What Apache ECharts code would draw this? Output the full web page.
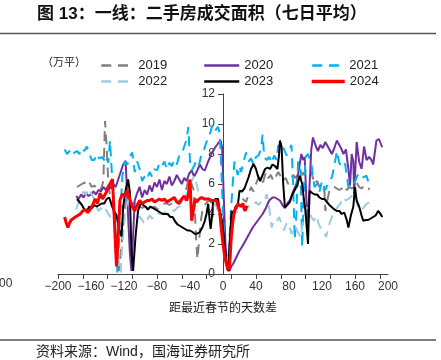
<!DOCTYPE html>
<html>
<head>
<meta charset="utf-8">
<script src="https://cdn.jsdelivr.net/npm/echarts@6/dist/echarts.min.js"></script>
<style>html,body{margin:0;padding:0;background:#fff;}#c{width:441px;height:360px;}</style>
</head>
<body>
<div id="c"></div>
<script>
const xLabelValues = [-200,-160,-120,-80,-40,0,40,80,120,160,200];
const xTickValues = [-200,-170,-140,-110,-80,-50,-20,10,40,70,100,130,160,190];
const yTicks = [0,2,4,6,8,10,12];
const seriesNames = ['2019','2020','2021','2022','2023','2024'];

const d2019 = [[-177,5.8],[-174,5.9],[-171,6.0],[-168,6.1],[-165,5.9],[-162,6.1],[-159,5.8],[-156,5.9],[-153,5.7],[-150,5.5],[-147,5.8],[-145,6.2],[-143,10.2],[-141,8.5],[-139,6.0],[-137,5.2],[-134,5.0],[-131,3.5],[-128,1.5],[-126,0.2],[-124,0.3],[-122,2.5],[-119,4.5],[-116,5.2],[-113,5.0],[-110,4.6],[-107,4.8],[-104,4.5],[-101,4.5],[-98,4.4],[-95,4.5],[-92,4.4],[-89,4.6],[-86,4.4],[-83,4.5],[-80,4.3],[-77,4.5],[-74,4.6],[-71,4.7],[-68,4.7],[-65,4.6],[-62,4.7],[-59,4.8],[-56,4.7],[-53,4.9],[-50,4.9],[-47,5.2],[-44,5.8],[-41,6.45],[-38,6.0],[-35,5.5],[-33,2.7],[-31,1.0],[-29,2.2],[-27,3.5],[-25,4.2],[-22,4.6],[-19,4.8],[-16,4.9],[-13,4.7],[-10,4.8],[-7,4.6],[-4,4.2],[-1,3.5],[2,1.0],[5,0.5],[8,2.0],[11,3.5],[14,4.2],[17,4.4],[20,4.7],[24,5.0],[28,4.8],[31,5.3],[34,5.8],[37,5.5],[40,6.0],[43,6.45],[46,6.0],[49,6.2],[52,6.8],[55,6.4],[58,6.6],[61,6.2],[64,6.5],[67,6.8],[70,6.5],[73,6.2],[76,6.4],[79,6.0],[82,6.3],[85,6.6],[88,6.4],[91,6.7],[94,6.9],[97,6.6],[100,6.9],[103,6.8],[106,7.0],[108,6.6],[111,6.0],[114,6.2],[117,5.8],[120,6.0],[123,5.5],[124,4.2],[126,4.8],[129,5.55],[132,5.8],[135,5.8],[138,5.7],[141,5.6],[144,5.7],[147,5.9],[150,5.6],[153,5.8],[156,5.7],[159,5.9],[162,6.1],[165,5.8],[168,5.7],[171,5.9],[174,5.7],[178,5.67]];

const d2020 = [[-178,5.2],[-175,5.0],[-172,5.3],[-169,5.1],[-166,5.4],[-163,5.2],[-160,5.3],[-157,5.5],[-154,5.3],[-151,5.6],[-148,5.5],[-145,5.8],[-142,5.6],[-139,5.9],[-136,5.7],[-133,6.0],[-130,5.8],[-127,6.3],[-124,6.8],[-121,7.3],[-118,7.55],[-116,5.0],[-113,1.5],[-111,0.2],[-109,2.5],[-107,4.9],[-104,5.4],[-101,5.8],[-98,5.1],[-95,5.6],[-92,5.3],[-89,5.9],[-86,5.5],[-83,6.1],[-80,5.8],[-77,6.3],[-74,5.6],[-71,6.2],[-68,6.0],[-65,6.5],[-62,5.9],[-59,6.2],[-56,6.6],[-53,6.3],[-50,6.0],[-47,6.4],[-44,6.2],[-41,6.7],[-38,6.9],[-35,6.5],[-32,6.8],[-28,7.3],[-25,7.0],[-22,6.9],[-18,7.5],[-14,8.0],[-10,8.4],[-6,8.7],[-3,8.9],[-1,8.4],[1,5.0],[3,2.0],[5,0.3],[8,0.2],[10,0.5],[12.5,0.7],[16,1.1],[20,1.55],[24,1.9],[28,2.3],[32,2.7],[36,3.1],[40,3.4],[44,3.7],[48,4.0],[52,4.4],[56,4.9],[60,5.1],[63,5.1],[66,5.0],[69,4.9],[72,4.6],[75,4.4],[78,4.7],[81,4.9],[85,5.5],[89,6.0],[92,7.0],[95,8.0],[97,7.6],[99,7.8],[101,5.0],[103,3.3],[105,6.0],[107,8.3],[109,9.1],[112,8.6],[115,8.2],[118,8.6],[121,8.4],[124,8.8],[126,8.9],[129,8.3],[132,8.0],[135,8.4],[138,8.9],[140,9.0],[143,8.4],[146,8.0],[149,8.3],[152,7.0],[154,5.9],[156,8.0],[158,7.5],[159,5.35],[162,8.8],[165,7.5],[168,7.0],[171,8.5],[174,7.6],[177,7.8],[180,7.6],[182,7.3],[186,8.9],[189,9.0],[193,8.45]];

const d2021 = [[-192,8.3],[-189,8.0],[-186,8.2],[-183,7.9],[-180,8.1],[-177,8.2],[-174,8.0],[-171,8.4],[-168,8.2],[-165,8.5],[-162,8.0],[-159,7.6],[-156,7.6],[-153,8.0],[-150,7.7],[-147,7.8],[-144,7.6],[-141,7.9],[-139,7.4],[-137,8.9],[-135,7.0],[-131,4.0],[-128,0.1],[-125,3.5],[-122,6.5],[-119,7.5],[-116,7.3],[-113,7.8],[-110,8.1],[-107,6.8],[-104,7.5],[-101,7.0],[-98,6.2],[-95,6.5],[-92,6.3],[-89,6.8],[-86,6.5],[-83,7.0],[-80,6.9],[-77,7.4],[-74,7.2],[-71,7.5],[-68,7.0],[-65,7.4],[-62,7.2],[-59,7.6],[-56,7.3],[-53,7.9],[-50,8.0],[-47,8.5],[-44,9.0],[-42,9.8],[-40,7.5],[-38,6.9],[-35,7.2],[-32,7.6],[-29,7.3],[-26,8.0],[-23,8.3],[-20,8.8],[-17,9.1],[-14,9.7],[-12,10.0],[-9,9.6],[-6,9.8],[-4,9.4],[-2,7.0],[0,4.0],[2,2.0],[4,0.5],[6,0.2],[8,2.5],[10,4.5],[12,6.2],[14,7.5],[16,7.0],[18,6.6],[20,7.2],[22,6.8],[25,7.5],[28,8.1],[31,7.5],[34,7.7],[37,7.3],[40,7.8],[43,7.9],[46,8.3],[48,9.3],[50,7.8],[53,7.6],[56,7.8],[59,7.4],[62,7.9],[65,7.6],[67,8.6],[70,8.3],[73,8.45],[77,7.9],[80,8.2],[83,8.6],[85,6.0],[87,2.3],[89,4.0],[91,7.5],[94,7.0],[96,1.8],[98,5.5],[100,7.8],[103,8.0],[105,8.1],[107,7.35],[111,5.8],[114,6.0],[117,5.5],[120,6.2],[124,5.6],[127,6.0],[132,6.45],[135,7.2],[138,8.2],[141,7.4],[144,7.1],[148,7.35],[152,5.8],[155,6.0],[158,5.9],[161,6.3],[164,6.7],[167,6.5],[170,6.45],[174,6.55],[178,5.8]];

const d2022 = [[-178,4.3],[-175,4.8],[-172,5.2],[-169,5.5],[-166,5.3],[-163,5.7],[-160,5.4],[-157,5.1],[-154,4.6],[-151,4.2],[-148,4.4],[-145,4.1],[-142,4.3],[-139,4.0],[-136,3.8],[-133,4.4],[-130,3.0],[-127,1.0],[-124,0.1],[-122,2.0],[-119,4.0],[-116,4.8],[-113,5.2],[-110,4.5],[-107,4.0],[-104,3.8],[-101,3.8],[-98,3.6],[-95,3.33],[-92,3.6],[-89,3.9],[-86,3.7],[-83,3.9],[-80,4.1],[-77,4.0],[-74,4.0],[-71,4.1],[-68,4.1],[-65,4.2],[-62,4.3],[-59,4.2],[-56,4.4],[-53,4.5],[-50,4.6],[-47,4.9],[-44,5.3],[-40,5.9],[-38,6.2],[-35,6.55],[-32,6.0],[-29,5.33],[-26,5.0],[-23,5.1],[-20,4.9],[-17,5.0],[-14,4.8],[-11,4.7],[-8,4.5],[-5,4.0],[-2,3.0],[1,1.5],[4,0.5],[7,1.5],[10,3.0],[13,4.2],[16,4.1],[19,4.3],[22,4.2],[25,4.4],[28,4.3],[31,4.5],[34,4.67],[37,4.6],[40,4.8],[43,4.6],[46,4.8],[50,4.8],[53,5.33],[56,4.4],[59,3.1],[62,3.6],[65,3.5],[68,3.8],[71,3.33],[74,2.9],[77,3.4],[80,3.33],[83,2.67],[86,3.2],[89,3.0],[92,2.67],[94,2.45],[97,3.5],[101,4.45],[104,4.2],[107,3.8],[110,3.55],[113,3.9],[116,3.33],[119,3.0],[122,2.9],[125,2.45],[128,3.2],[132,3.8],[135,4.2],[138,4.4],[142,4.67],[146,5.1],[149,4.9],[152,5.0],[156,5.2],[160,5.33],[163,4.6],[166,4.2],[170,4.4],[174,4.67],[178,4.8]];

const d2023 = [[-177,5.0],[-174,4.8],[-171,4.6],[-168,4.3],[-165,4.2],[-162,4.5],[-159,4.4],[-156,4.6],[-153,4.5],[-150,4.6],[-147,4.7],[-144,4.7],[-141,5.0],[-138,5.1],[-135,4.6],[-132,4.2],[-129,3.9],[-126,3.0],[-123,2.5],[-121,4.5],[-118,5.6],[-115,6.3],[-113,5.5],[-111,1.5],[-109,0.2],[-106,2.5],[-103,4.2],[-100,4.7],[-97,4.6],[-94,4.5],[-91,4.3],[-88,4.5],[-85,4.4],[-82,4.3],[-79,4.2],[-76,4.1],[-73,4.0],[-70,4.0],[-67,4.0],[-64,3.8],[-61,3.8],[-58,3.5],[-55,3.3],[-52,3.2],[-49,3.1],[-46,3.0],[-43,2.9],[-40,2.9],[-37,2.8],[-34,2.67],[-31,2.7],[-28,2.8],[-25,3.1],[-22,3.55],[-20,4.0],[-18,4.67],[-16,3.5],[-15,3.0],[-13,4.0],[-12,4.9],[-9,5.0],[-6,5.0],[-4,4.2],[-1,3.5],[2,2.0],[4,0.8],[6.5,0.2],[8,2.0],[10.5,4.2],[13,4.0],[15,4.45],[18,4.6],[20,5.55],[23,5.5],[26,5.7],[28,6.0],[31,6.45],[34,7.0],[37,7.33],[40,7.0],[42,6.6],[45,6.2],[48,6.6],[51,7.0],[54,7.1],[57,7.0],[60,7.3],[63,7.2],[66,7.0],[68,8.0],[69,8.9],[71,8.5],[73,6.0],[75,4.45],[78,4.6],[81,4.8],[84,5.3],[87,5.6],[90,5.9],[93,6.55],[96,6.0],[98,5.0],[100,4.2],[103,2.0],[105,5.55],[108,5.4],[111,5.3],[114,5.3],[117,5.1],[120,5.0],[123,5.0],[126,4.8],[129,4.6],[132,4.45],[135,4.3],[138,4.2],[141,4.2],[144,4.0],[147,4.1],[150,3.6],[152,3.1],[155,3.9],[158,4.5],[160,5.8],[162,4.9],[165,4.5],[168,3.9],[170,3.55],[173,3.6],[176,3.6],[179,3.7],[182,3.8],[185,3.9],[188,4.2],[191,4.0],[193,3.8]];

const d2024 = [[-192,3.8],[-190,3.4],[-188,3.1],[-186,3.4],[-184,3.6],[-182,3.6],[-179,3.8],[-176,3.9],[-173,4.0],[-170,4.2],[-167,4.3],[-164,4.1],[-161,4.3],[-158,4.6],[-155,5.0],[-152,4.7],[-149,5.4],[-146,5.0],[-143,5.3],[-140,5.6],[-137,6.0],[-134,6.33],[-132,4.0],[-130,1.5],[-129,0.5],[-127,2.5],[-125,4.9],[-122,5.33],[-119,5.2],[-116,5.6],[-113,5.0],[-110,4.5],[-107,4.2],[-104,4.6],[-101,4.9],[-98,4.7],[-95,4.8],[-92,4.9],[-89,4.9],[-86,5.0],[-83,4.8],[-80,4.9],[-77,5.0],[-74,4.9],[-71,5.0],[-68,4.8],[-65,4.9],[-62,5.0],[-59,5.1],[-56,4.8],[-53,4.7],[-50,5.0],[-47,5.2],[-44,4.9],[-42,5.3],[-40,6.3],[-38,3.55],[-36,4.2],[-34,5.0],[-32,4.8],[-29,5.0],[-26,5.1],[-23,5.0],[-20,5.0],[-17,5.0],[-14,4.9],[-11,4.9],[-8,4.9],[-6,5.0],[-4,4.2],[-2,3.0],[0,2.0],[2,1.2],[4,0.7],[6,0.3],[8,0.45],[10,2.45],[12,3.55],[14,4.2],[16,4.5],[18,4.67],[20,4.6],[22,4.5],[24,4.7],[26.7,4.2],[29,4.55]];

const seriesData = [d2019, d2020, d2021, d2022, d2023, d2024];
const colors = ['#808080','#7030A0','#00B0F0','#9FCBE0','#000000','#FF0000'];
const widths = [2,2,2,2,2,3];
const legendWidths = [2.5,2.5,2.5,2.5,2.5,3.5];
const dashes = [[10,6.7],'solid',[10,6.7],[10,6.7],'solid','solid'];

const FONT = '"Liberation Sans", "Noto Sans CJK SC", sans-serif';
const chart = echarts.init(document.getElementById('c'), null, {renderer:'canvas'});

const legendPos = [
  {left:100, top:59, w:32},
  {left:203, top:59, w:35},
  {left:311, top:59, w:32},
  {left:100, top:75, w:32},
  {left:203, top:75, w:35},
  {left:310, top:75, w:33}
];

const option = {
  animation: false,
  textStyle: {fontFamily: FONT},
  grid: {left:58, right:53, top:94, bottom:86, containLabel:false},
  legend: seriesNames.map((n,i)=>({
    data:[n], left:legendPos[i].left, top:legendPos[i].top, padding:0,
    itemWidth:legendPos[i].w, itemHeight:12, selectedMode:false,
    itemStyle:{opacity:0, borderWidth:0},
    lineStyle:{width:legendWidths[i]},
    textStyle:{fontSize:13, color:'#222', fontFamily:FONT}
  })),
  xAxis: {
    type:'value', min:-200, max:200,
    axisLine:{show:true, onZero:false, lineStyle:{color:'#444', width:1}},
    axisTick:{show:true, length:5, customValues:xTickValues, lineStyle:{color:'#444'}},
    axisLabel:{customValues:xLabelValues, fontSize:12, color:'#333', margin:7,
      formatter: v => String(v).replace('-', '\u2212')},
    splitLine:{show:false},
    name:'距最近春节的天数差', nameLocation:'middle', nameGap:27,
    nameTextStyle:{fontSize:12, color:'#222', fontFamily:'"Noto Sans CJK SC", sans-serif'}
  },
  yAxis: {
    type:'value', min:0, max:12, interval:2, position:'left', offset:-165,
    axisLine:{show:true, onZero:false, lineStyle:{color:'#444', width:1}},
    axisTick:{show:true, length:5, customValues:yTicks, lineStyle:{color:'#444'}},
    axisLabel:{fontSize:12, color:'#333', margin:8, customValues:yTicks},
    splitLine:{show:false}
  },
  series: seriesNames.map((n,i)=>({
    name:n, type:'line', data:seriesData[i], symbol:'none', smooth:false,
    lineStyle:{color:colors[i], width:widths[i], type:dashes[i]},
    itemStyle:{color:colors[i]},
    z: 2 + i
  })),
  graphic: [
    {type:'text', style:{text:'图 13：一线：二手房成交面积（七日平均）', x:37, y:14, fill:'#111',
      font:'bold 17px "Liberation Sans", "Noto Sans CJK SC", sans-serif', verticalAlign:'middle', align:'left'}},
    {type:'line', shape:{x1:0, y1:33.5, x2:436, y2:33.5}, style:{stroke:'#555', lineWidth:1.5}},
    {type:'text', style:{text:'（万平）', x:42, y:62, fill:'#222',
      font:'11px "Noto Sans CJK SC", sans-serif', verticalAlign:'middle', align:'left'}},
    {type:'text', style:{text:'00', x:-1, y:284, fill:'#333',
      font:'12px "Liberation Sans", sans-serif', verticalAlign:'middle', align:'left'}},
    {type:'line', shape:{x1:0, y1:340, x2:436, y2:340}, style:{stroke:'#555', lineWidth:1.5}},
    {type:'text', style:{text:'资料来源：Wind，国海证券研究所', x:36, y:352, fill:'#222',
      font:'14px "Liberation Sans", "Noto Sans CJK SC", sans-serif', verticalAlign:'middle', align:'left'}}
  ]
};
chart.setOption(option);
</script>
</body>
</html>
